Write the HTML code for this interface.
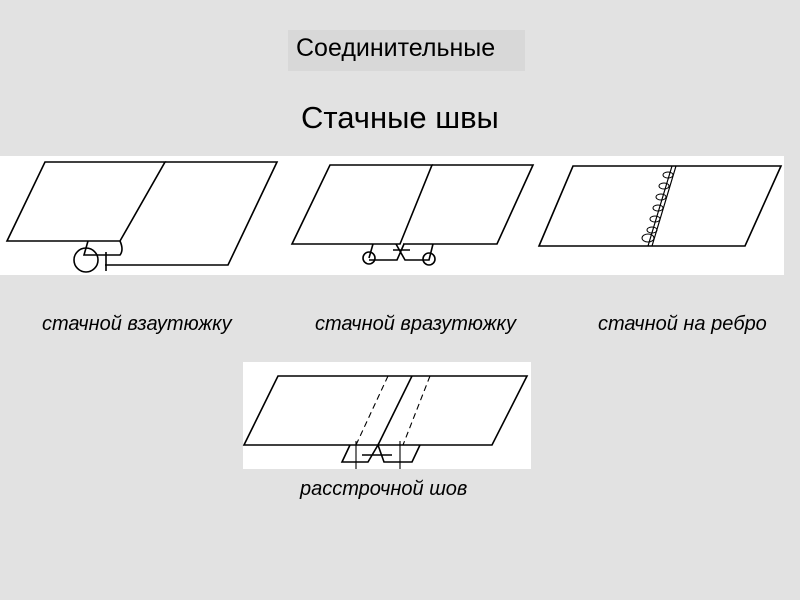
<!DOCTYPE html>
<html><head><meta charset="utf-8"><style>
body{margin:0;width:800px;height:600px;background:#e2e2e2;font-family:"Liberation Sans",sans-serif;position:relative;overflow:hidden}
.t{position:absolute;white-space:nowrap;color:#000}
.i{font-style:italic;font-size:20px}
</style></head><body>
<div style="position:absolute;left:288px;top:30px;width:237px;height:41px;background:#d8d8d8"></div>
<div class="t" style="left:296px;top:34px;font-size:25px">Соединительные</div>
<div class="t" style="left:301px;top:100px;font-size:31px">Стачные швы</div>
<div style="position:absolute;left:0;top:156px;width:784px;height:119px;background:#fff"></div>
<div style="position:absolute;left:243px;top:362px;width:288px;height:107px;background:#fff"></div>
<svg width="800" height="600" style="position:absolute;left:0;top:0" fill="none" stroke="#000" stroke-width="1.6">
<path d="M45,162 L165,162 L120,241 L7,241 Z"/>
<path d="M165,162 L277,162 L228,265 L105,265"/>
<path d="M88,241 L84,255 L120,255 Q124,250 120,241"/>
<circle cx="86" cy="260" r="12"/>
<path d="M106,252 L106,271"/>
<path d="M330,165 L432,165 L400,244 L292,244 Z"/>
<path d="M432,165 L533,165 L497,244 L403,244"/>
<path d="M373,244 L369,258 M369,260 L397,260 L404,244 M396,244 L405,260 L429,260 L433,244 M393,250 L410,250"/>
<circle cx="369" cy="258" r="6"/><circle cx="429" cy="259" r="6"/>
<path d="M573,166 L781,166 L745,246 L539,246 Z"/>
<path d="M672,166 L648,246 M676,166 L652,246" stroke-width="1.2"/>
<g stroke-width="1">
<ellipse cx="668" cy="175" rx="5" ry="3"/><ellipse cx="664" cy="186" rx="5" ry="3"/><ellipse cx="661" cy="197" rx="5" ry="3"/><ellipse cx="658" cy="208" rx="5" ry="3"/><ellipse cx="655" cy="219" rx="5" ry="3"/><ellipse cx="652" cy="230" rx="5" ry="3"/><ellipse cx="648" cy="238" rx="6" ry="4"/>
</g>
<path d="M278,376 L527,376 L492,445 L244,445 Z"/>
<path d="M412,376 L378,445"/>
<path d="M388,376 L356,445 M430,376 L403,445" stroke-dasharray="6,4" stroke-width="1.1"/>
<path d="M350,445 L342,462 L368,462 L378,445 L384,462 L412,462 L420,445 M362,455 L392,455"/>
<path d="M356,441 L356,469 M400,441 L400,469" stroke-width="1.1"/>
</svg>
<div class="t i" style="left:42px;top:313px">стачной взаутюжку</div>
<div class="t i" style="left:315px;top:313px">стачной вразутюжку</div>
<div class="t i" style="left:598px;top:313px">стачной на ребро</div>
<div class="t i" style="left:300px;top:478px">расстрочной шов</div>
</body></html>
